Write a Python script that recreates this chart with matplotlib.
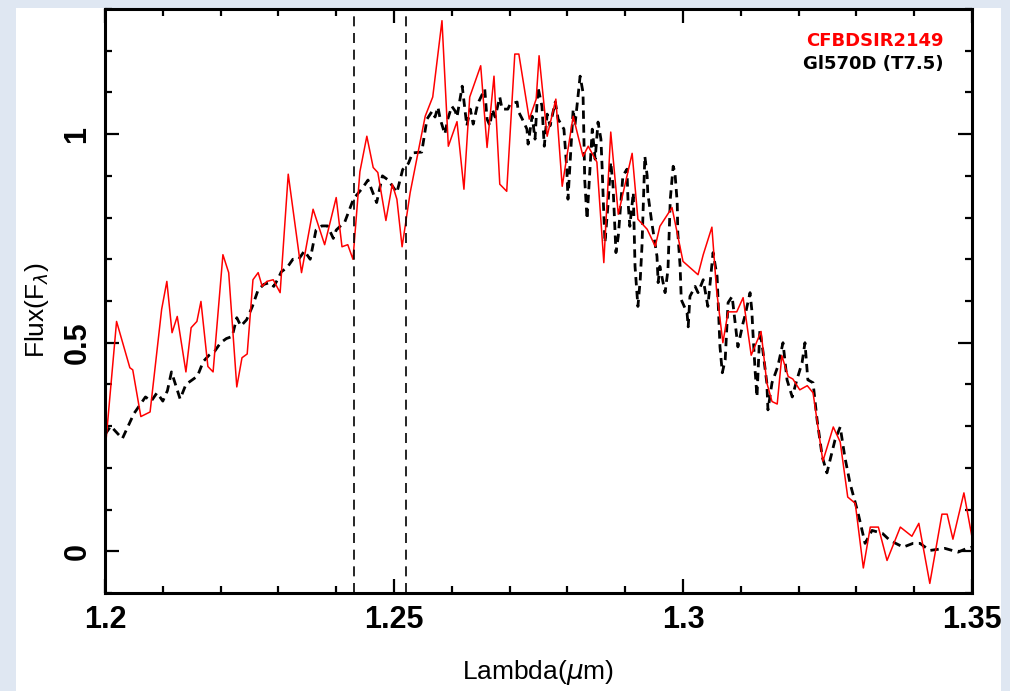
import matplotlib.pyplot as plt
from matplotlib.patches import Rectangle
from matplotlib.ticker import MultipleLocator, FuncFormatter

# CFBDSIR2149 spectrum (red)
red_wave = [1.2000, 1.2020, 1.2043, 1.2048, 1.2062, 1.2078, 1.2085, 1.2098, 1.2107, 1.2116,
            1.2125, 1.2140, 1.2149, 1.2159, 1.2166, 1.2178, 1.2187, 1.2204, 1.2214, 1.2228,
            1.2237, 1.2246, 1.2256, 1.2265, 1.2272, 1.2280, 1.2291, 1.2303, 1.2317, 1.2340,
            1.2360, 1.2380, 1.2400, 1.2410, 1.2420, 1.2429, 1.2441, 1.2453, 1.2464, 1.2472,
            1.2486, 1.2497, 1.2505, 1.2514, 1.2528, 1.2545, 1.2554, 1.2567, 1.2583, 1.2594,
            1.2609, 1.2621, 1.2631, 1.2650, 1.2661, 1.2673, 1.2683, 1.2695, 1.2709, 1.2716,
            1.2734, 1.2746, 1.2751, 1.2765, 1.2780, 1.2791, 1.2810, 1.2827, 1.2836, 1.2851,
            1.2863, 1.2875, 1.2888, 1.2912, 1.2922, 1.2938, 1.2952, 1.2960, 1.2981, 1.3000,
            1.3026, 1.3035, 1.3050, 1.3058, 1.3069, 1.3078, 1.3093, 1.3104, 1.3118, 1.3135,
            1.3145, 1.3154, 1.3163, 1.3171, 1.3182, 1.3190, 1.3202, 1.3215, 1.3225, 1.3242,
            1.3260, 1.3272, 1.3285, 1.3298, 1.3312, 1.3324, 1.3338, 1.3353, 1.3376, 1.3396,
            1.3408, 1.3427, 1.3448, 1.3457, 1.3467, 1.3486, 1.3500]
red_flux = [0.238, 0.551, 0.440, 0.435, 0.323, 0.334, 0.420, 0.580, 0.647, 0.524,
            0.563, 0.430, 0.536, 0.551, 0.599, 0.443, 0.430, 0.711, 0.668, 0.394,
            0.464, 0.473, 0.651, 0.668, 0.635, 0.647, 0.651, 0.620, 0.904, 0.668,
            0.820, 0.735, 0.848, 0.730, 0.735, 0.700, 0.910, 0.995, 0.920, 0.908,
            0.793, 0.880, 0.844, 0.730, 0.860, 0.980, 1.043, 1.089, 1.272, 0.971,
            1.030, 0.868, 1.089, 1.164, 0.968, 1.139, 0.880, 0.863, 1.192, 1.192,
            1.036, 1.084, 1.188, 0.995, 1.084, 0.875, 1.043, 0.947, 0.971, 0.933,
            0.692, 1.005, 0.808, 0.954, 0.796, 0.772, 0.731, 0.779, 0.824, 0.695,
            0.663, 0.711, 0.777, 0.627, 0.500, 0.574, 0.574, 0.608, 0.470, 0.527,
            0.404, 0.359, 0.353, 0.469, 0.419, 0.413, 0.387, 0.397, 0.380, 0.216,
            0.298, 0.262, 0.130, 0.115, -0.040, 0.058, 0.058, -0.022, 0.058, 0.036,
            0.067, -0.077, 0.089, 0.089, 0.029, 0.140, 0.034]

# Gl570D (T7.5) template (black dashed)
blk_wave = [1.2000, 1.2010, 1.2020, 1.2030, 1.2040, 1.2050, 1.2060, 1.2070, 1.2080, 1.2090,
            1.2100, 1.2108, 1.2115, 1.2122, 1.2130, 1.2140, 1.2150, 1.2160, 1.2170, 1.2180,
            1.2190, 1.2200, 1.2210, 1.2220, 1.2228, 1.2235, 1.2245, 1.2255, 1.2265, 1.2275,
            1.2285, 1.2292, 1.2300, 1.2305, 1.2315, 1.2325, 1.2335, 1.2345, 1.2355, 1.2365,
            1.2375, 1.2385, 1.2395, 1.2400, 1.2415, 1.2430, 1.2445, 1.2455, 1.2470, 1.2480,
            1.2490, 1.2505, 1.2515, 1.2525, 1.2532, 1.2548, 1.2557, 1.2566, 1.2571, 1.2576,
            1.2580, 1.2588, 1.2593, 1.2600, 1.2606, 1.2609, 1.2618, 1.2626, 1.2632, 1.2637,
            1.2644, 1.2647, 1.2657, 1.2661, 1.2666, 1.2670, 1.2675, 1.2683, 1.2687, 1.2697,
            1.2701, 1.2713, 1.2715, 1.2722, 1.2730, 1.2732, 1.2739, 1.2744, 1.2749, 1.2756,
            1.2760, 1.2765, 1.2770, 1.2779, 1.2784, 1.2794, 1.2799, 1.2801, 1.2810, 1.2813,
            1.2822, 1.2827, 1.2830, 1.2834, 1.2843, 1.2848, 1.2853, 1.2858, 1.2860, 1.2862,
            1.2865, 1.2870, 1.2875, 1.2879, 1.2884, 1.2888, 1.2896, 1.2903, 1.2905, 1.2908,
            1.2914, 1.2917, 1.2922, 1.2926, 1.2929, 1.2934, 1.2938, 1.2939, 1.2946, 1.2955,
            1.2957, 1.2960, 1.2969, 1.2974, 1.2978, 1.2983, 1.2986, 1.2990, 1.2991, 1.2995,
            1.2997, 1.3007, 1.3009, 1.3012, 1.3021, 1.3026, 1.3035, 1.3043, 1.3052, 1.3059,
            1.3064, 1.3068, 1.3073, 1.3078, 1.3085, 1.3095, 1.3104, 1.3107, 1.3116, 1.3119,
            1.3121, 1.3125, 1.3128, 1.3133, 1.3138, 1.3145, 1.3147, 1.3154, 1.3164, 1.3173,
            1.3180, 1.3189, 1.3197, 1.3206, 1.3211, 1.3216, 1.3225, 1.3232, 1.3241, 1.3249,
            1.3263, 1.3272, 1.3280, 1.3289, 1.3303, 1.3315, 1.3327, 1.3345, 1.3358, 1.3381,
            1.3398, 1.3410, 1.3427, 1.3453, 1.3476, 1.3491, 1.3500]
blk_flux = [0.280, 0.300, 0.285, 0.270, 0.300, 0.330, 0.350, 0.370, 0.360, 0.380,
            0.360, 0.385, 0.430, 0.400, 0.365, 0.400, 0.410, 0.420, 0.455, 0.470,
            0.480, 0.500, 0.510, 0.515, 0.560, 0.540, 0.555, 0.587, 0.627, 0.640,
            0.644, 0.635, 0.655, 0.670, 0.680, 0.700, 0.700, 0.720, 0.700, 0.770,
            0.780, 0.780, 0.750, 0.770, 0.790, 0.845, 0.870, 0.890, 0.836, 0.900,
            0.890, 0.860, 0.915, 0.930, 0.955, 0.957, 1.036, 1.055, 1.041, 1.065,
            1.036, 1.000, 1.036, 1.067, 1.055, 1.041, 1.115, 1.020, 1.060, 1.024,
            1.067, 1.079, 1.108, 1.036, 1.020, 1.060, 1.041, 1.089, 1.060, 1.060,
            1.072, 1.077, 1.055, 1.036, 1.012, 0.976, 1.043, 0.988, 1.113, 1.067,
            0.971, 1.048, 1.020, 1.077, 1.036, 1.012, 0.916, 0.844, 1.060, 1.020,
            1.139, 1.100, 0.890, 0.796, 1.012, 0.940, 1.029, 0.988, 0.923, 0.844,
            0.740, 0.827, 0.933, 0.875, 0.716, 0.755, 0.900, 0.916, 0.836, 0.779,
            0.860, 0.683, 0.587, 0.651, 0.731, 0.947, 0.900, 0.860, 0.788, 0.707,
            0.644, 0.683, 0.620, 0.675, 0.844, 0.923, 0.909, 0.836, 0.764, 0.683,
            0.603, 0.572, 0.538, 0.611, 0.635, 0.620, 0.651, 0.587, 0.716, 0.659,
            0.490, 0.428, 0.459, 0.596, 0.611, 0.490, 0.548, 0.563, 0.620, 0.579,
            0.524, 0.428, 0.370, 0.531, 0.483, 0.404, 0.339, 0.404, 0.443, 0.500,
            0.411, 0.370, 0.411, 0.452, 0.500, 0.411, 0.404, 0.315, 0.226, 0.188,
            0.267, 0.298, 0.226, 0.163, 0.091, 0.019, 0.050, 0.043, 0.026, 0.010,
            0.019, 0.019, 0.002, 0.007, -0.002, 0.007, 0.010]

band_edges = [1.2431, 1.2521]

tickfont = ['Liberation Sans Narrow', 'Liberation Sans', 'DejaVu Sans']

fig = plt.figure(figsize=(10.10, 6.91), dpi=100, facecolor='#dfe7f2')
fig.patches.append(Rectangle((16 / 1010, 0), 985 / 1010, 683 / 691,
                             transform=fig.transFigure, facecolor='white',
                             edgecolor='none', zorder=-10))
ax = fig.add_axes([105 / 1010, 98 / 691, 867 / 1010, 584 / 691])
ax.set_facecolor('white')

ax.plot(blk_wave, blk_flux, color='black', lw=2.0, dashes=(3, 2))
ax.plot(red_wave, red_flux, color='red', lw=1.1)
for xe in band_edges:
    ax.axvline(xe, color='black', lw=1.2, dashes=(6, 4))

ax.set_xlim(1.2, 1.35)
ax.set_ylim(-0.1, 1.3)
ax.xaxis.set_major_locator(MultipleLocator(0.05))
ax.xaxis.set_minor_locator(MultipleLocator(0.01))
ax.yaxis.set_major_locator(MultipleLocator(0.5))
ax.yaxis.set_minor_locator(MultipleLocator(0.1))
fmt = FuncFormatter(lambda v, p: '%g' % round(v, 3))
ax.xaxis.set_major_formatter(fmt)
ax.yaxis.set_major_formatter(fmt)

for s in ax.spines.values():
    s.set_linewidth(2.2)
ax.tick_params(which='both', direction='in', top=True, right=True, width=1.6)
ax.tick_params(which='major', length=10)
ax.tick_params(which='minor', length=5)
ax.tick_params(axis='x', pad=9)
ax.tick_params(axis='y', pad=9, labelrotation=90)
for lab in ax.get_xticklabels() + ax.get_yticklabels():
    lab.set_family(tickfont)
    lab.set_fontweight('bold')
    lab.set_fontsize(22)
for lab in ax.get_yticklabels():
    lab.set_va('center')

ax.set_xlabel(r'Lambda($\mu$m)', family=tickfont, fontsize=19, labelpad=16)
ax.set_ylabel(r'Flux(F$_\lambda$)', family=tickfont, fontsize=19)
ax.yaxis.set_label_coords(-0.062, 0.485)

ax.text(0.967, 0.945, 'CFBDSIR2149', transform=ax.transAxes, ha='right', va='center',
        color='red', fontsize=13, fontweight='bold')
ax.text(0.967, 0.905, 'Gl570D (T7.5)', transform=ax.transAxes, ha='right', va='center',
        color='black', fontsize=13, fontweight='bold')

plt.savefig('out.png', dpi=100, facecolor=fig.get_facecolor())
